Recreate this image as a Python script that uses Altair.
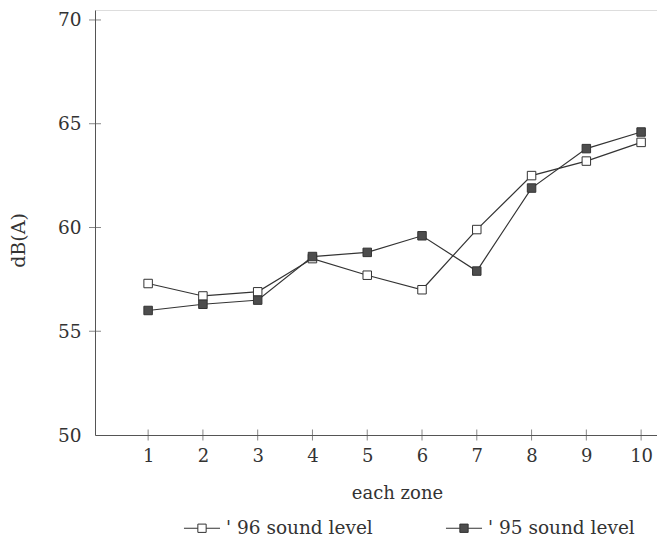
import altair as alt
import pandas as pd

zones = [1, 2, 3, 4, 5, 6, 7, 8, 9, 10]
level_96 = [57.3, 56.7, 56.9, 58.5, 57.7, 57.0, 59.9, 62.5, 63.2, 64.1]
level_95 = [56.0, 56.3, 56.5, 58.6, 58.8, 59.6, 57.9, 61.9, 63.8, 64.6]
series_names = ["' 96 sound level", "' 95 sound level"]
y_ticks = [50, 55, 60, 65, 70]

rows = []
for z, a, b in zip(zones, level_96, level_95):
    rows.append({"zone": z, "dB": a, "series": series_names[0]})
    rows.append({"zone": z, "dB": b, "series": series_names[1]})
df = pd.DataFrame(rows)

FONT = "DejaVu Serif"
INK = "#333333"

x_scale = alt.Scale(domain=[0.03, 10.29], nice=False, zero=False)
y_scale = alt.Scale(domain=[50, 70.48], nice=False, zero=False)

x_axis = alt.Axis(values=zones, format="d", tickSize=0, labelPadding=12,
                  title="each zone", titlePadding=19, titleX=302, titleAnchor="start",
                  titleAlign="center", grid=False, labelFont=FONT, titleFont=FONT,
                  labelFontSize=18, titleFontSize=18, titleFontWeight="normal",
                  labelColor=INK, titleColor=INK, domainColor="#555555")
y_axis = alt.Axis(values=y_ticks, format="d", tickSize=0, labelPadding=14,
                  title="dB(A)", titlePadding=29, titleY=230, titleAlign="center",
                  grid=False, labelFont=FONT, titleFont=FONT,
                  labelFontSize=18.5, titleFontSize=19, titleFontWeight="normal",
                  labelColor=INK, titleColor=INK, domainColor="#555555")

lines = alt.Chart(df).mark_line(strokeWidth=1.2, color=INK).encode(
    x=alt.X("zone:Q", scale=x_scale, axis=x_axis),
    y=alt.Y("dB:Q", scale=y_scale, axis=y_axis),
    detail="series:N",
)

# legend glyph: a short line with a square in the middle
legend_symbol = "M-1,0H-0.23M0.23,0H1M-0.23,-0.23H0.23V0.23H-0.23Z"

points = alt.Chart(df).mark_point(shape="square", size=72, filled=True,
                                  stroke=INK, strokeWidth=1, opacity=1).encode(
    x=alt.X("zone:Q", scale=x_scale),
    y=alt.Y("dB:Q", scale=y_scale),
    fill=alt.Fill("series:N",
                  scale=alt.Scale(domain=series_names, range=["#ffffff", "#4d4d4d"]),
                  legend=alt.Legend(title=None, orient="none", direction="horizontal",
                                    legendX=88, legendY=499,
                                    symbolType=legend_symbol, symbolSize=1300,
                                    symbolStrokeColor=INK, symbolStrokeWidth=1,
                                    labelFont=FONT, labelFontSize=18.5, labelColor=INK,
                                    labelOffset=5, columnPadding=70)),
)

x_ticks = alt.Chart(pd.DataFrame({"zone": zones})).mark_tick(
    size=11, thickness=1, color="#555555").encode(
    x=alt.X("zone:Q", scale=x_scale), y=alt.value(425))

y_tick_marks = alt.Chart(pd.DataFrame({"dB": y_ticks[1:]})).mark_tick(
    size=12, thickness=1, color="#555555").encode(
    y=alt.Y("dB:Q", scale=y_scale), x=alt.value(0))

chart = alt.layer(x_ticks, y_tick_marks, lines, points).properties(
    width=562, height=425,
    autosize=alt.AutoSizeParams(type="none"),
    padding={"left": 95, "top": 10, "right": 0, "bottom": 110},
).configure_view(stroke=None).configure(background="white")

chart.save("out.html", embed_options={"renderer": "svg", "actions": False})
